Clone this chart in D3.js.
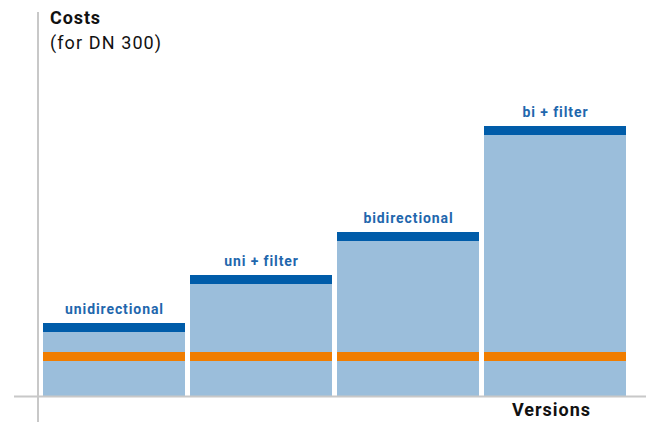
<!DOCTYPE html>
<html><head><meta charset="utf-8">
<script src="https://cdn.jsdelivr.net/npm/d3@7"></script>
<style>body{margin:0;background:#fff}svg{display:block}</style>
</head><body>
<svg id="chart" width="647" height="425"></svg>
<script>
const categories = ["unidirectional", "uni + filter", "bidirectional", "bi + filter"];
const totalCost = [73, 121, 164, 270];
const orangeBandStart = [35, 35, 35, 35];
const bandSize = 9;
const yTitle = "Costs";
const ySubtitle = "(for DN 300)";
const xTitle = "Versions";

const svg = d3.select("#chart");
const baseY = 396;
const x = d3.scaleBand().domain(categories).range([43, 626]).paddingInner(0.034).paddingOuter(0);
const y = d3.scaleLinear().domain([0, 300]).range([baseY, baseY - 300]);

const light = "#9bbedb", dark = "#005ca9", orange = "#f07d00", labelCol = "#1f67ad";
const ff = "Roboto, 'Open Sans', sans-serif";

const g = svg.append("g");
g.selectAll("rect.bar").data(categories).join("rect")
  .attr("x", d => x(d)).attr("width", x.bandwidth())
  .attr("y", (d,i) => y(totalCost[i])).attr("height", (d,i) => y(0) - y(totalCost[i]))
  .attr("fill", light);
g.selectAll("rect.top").data(categories).join("rect")
  .attr("x", d => x(d)).attr("width", x.bandwidth())
  .attr("y", (d,i) => y(totalCost[i])).attr("height", (d,i) => y(totalCost[i]-bandSize) - y(totalCost[i]))
  .attr("fill", dark);
g.selectAll("rect.or").data(categories).join("rect")
  .attr("x", d => x(d)).attr("width", x.bandwidth())
  .attr("y", (d,i) => y(orangeBandStart[i] + bandSize)).attr("height", (d,i) => y(orangeBandStart[i]) - y(orangeBandStart[i]+bandSize))
  .attr("fill", orange);
g.selectAll("text.lab").data(categories).join("text")
  .attr("x", d => x(d) + x.bandwidth()/2 + 0.5)
  .attr("y", (d,i) => y(totalCost[i]) - 9)
  .attr("text-anchor", "middle")
  .attr("font-family", ff).attr("letter-spacing", 0.9)
  .attr("font-weight", "bold").attr("font-size", 14)
  .attr("fill", labelCol).text(d => d);

svg.append("line").attr("x1", 14).attr("x2", 646).attr("y1", baseY + 0.5).attr("y2", baseY + 0.5)
  .attr("stroke", "#c8c8c8").attr("stroke-width", 2);
svg.append("line").attr("x1", 38).attr("x2", 38).attr("y1", 12).attr("y2", 422)
  .attr("stroke", "#c8c8c8").attr("stroke-width", 2);

svg.append("text").attr("x", 50).attr("y", 24).attr("font-family", ff).attr("letter-spacing", 0.9)
  .attr("font-weight", "bold").attr("font-size", 18).attr("fill", "#111").text(yTitle);
svg.append("text").attr("x", 50).attr("y", 49).attr("font-family", ff).attr("letter-spacing", 1.1)
  .attr("font-size", 18).attr("fill", "#111").text(ySubtitle);
svg.append("text").attr("x", 551.5).attr("y", 416).attr("text-anchor", "middle").attr("font-family", ff)
  .attr("letter-spacing", 1)
  .attr("font-weight", "bold").attr("font-size", 18).attr("fill", "#111").text(xTitle);
</script>
</body></html>
